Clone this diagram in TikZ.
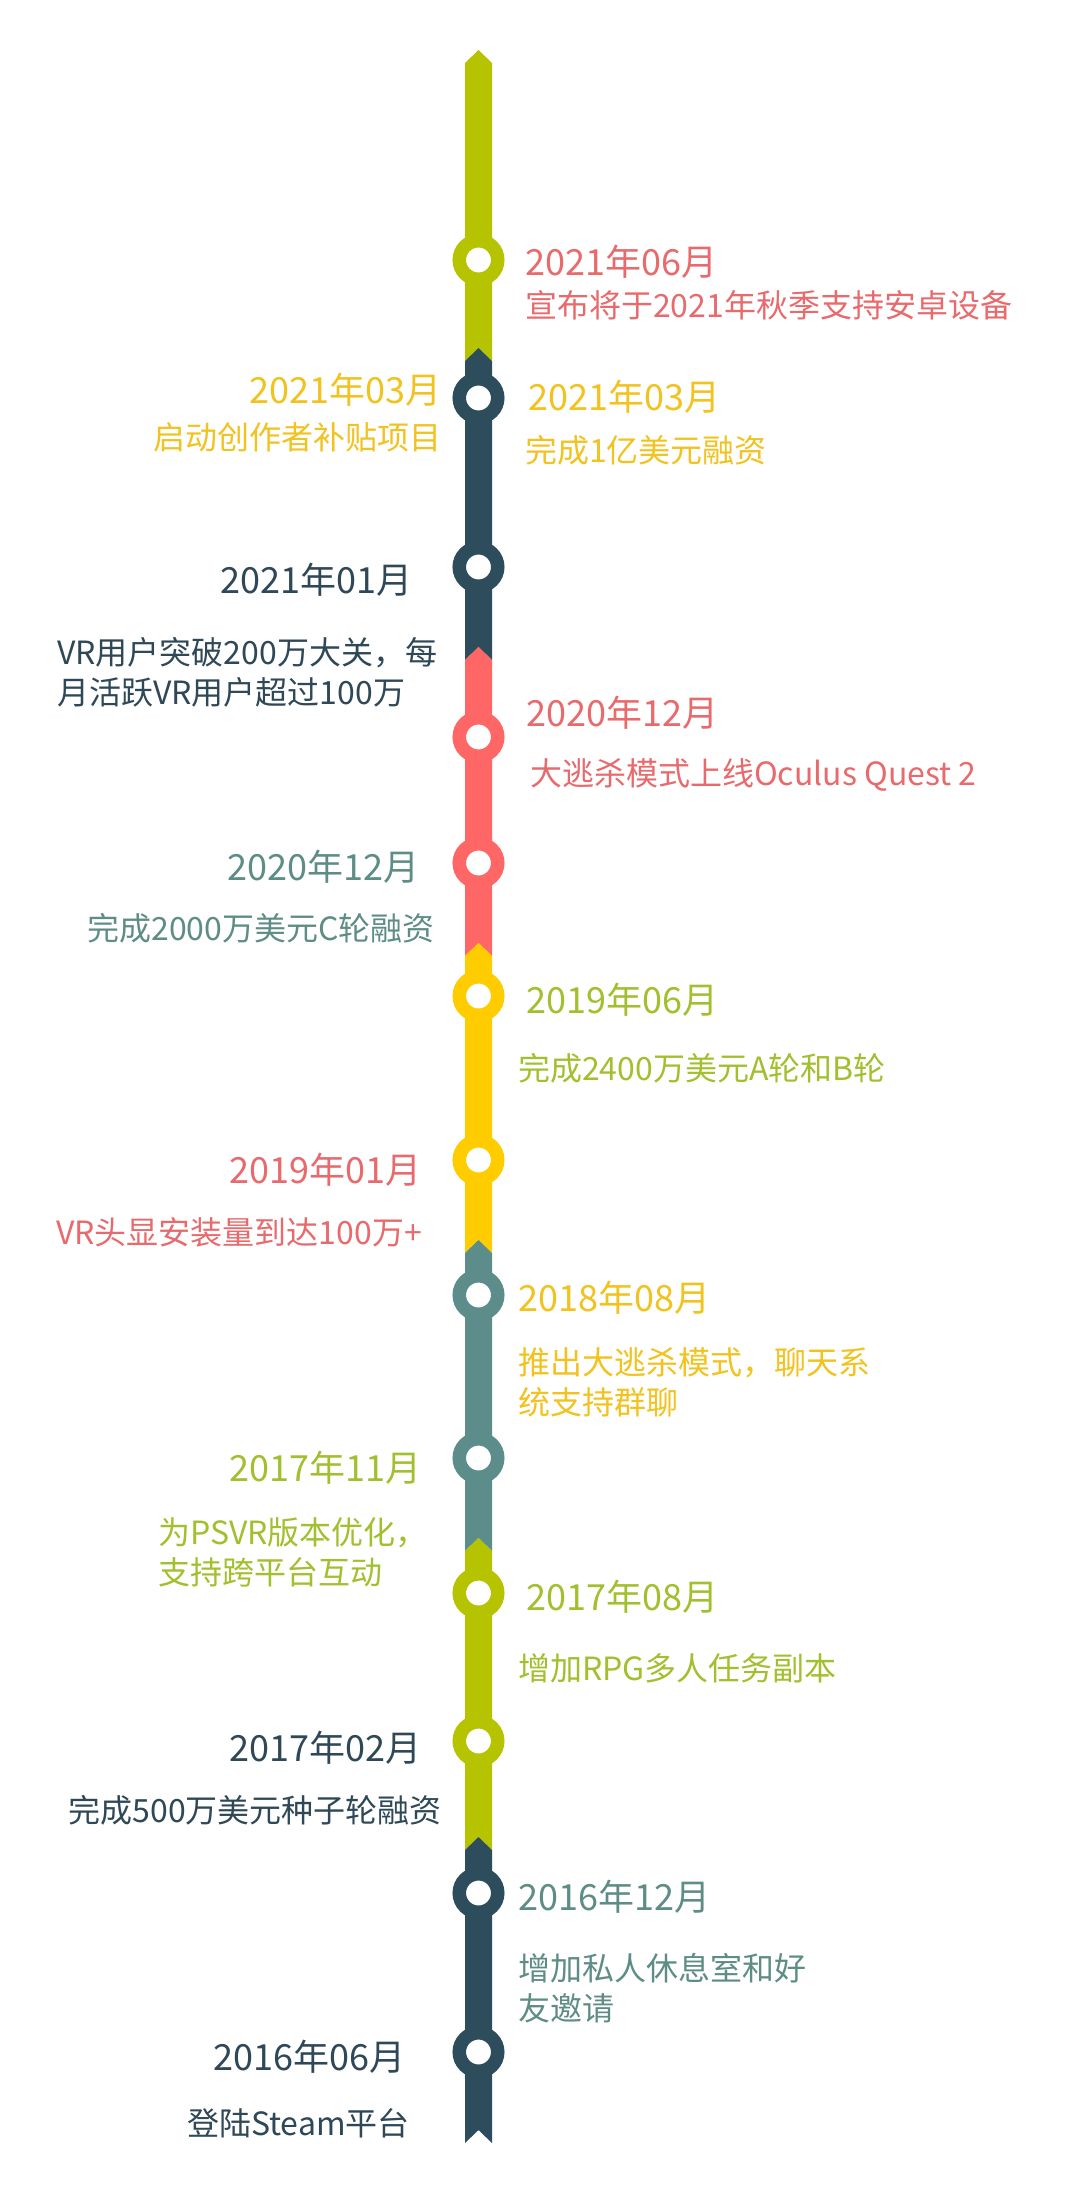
\documentclass[tikz,border=0pt]{standalone}
\usepackage{fontspec}
\newfontfamily\cjkfont{Noto Sans CJK SC}
\definecolor{barlime}{HTML}{B5C300}
\definecolor{barslate}{HTML}{2D4C5C}
\definecolor{barred}{HTML}{FF6666}
\definecolor{baryellow}{HTML}{FFCC00}
\definecolor{barteal}{HTML}{5C8D8B}
\definecolor{txtred}{HTML}{E86A6C}
\definecolor{txtyellow}{HTML}{F2C21E}
\definecolor{txtgreen}{HTML}{A2BF2E}
\definecolor{txtteal}{HTML}{5E8D86}
\definecolor{txtdark}{HTML}{2F4858}

\begin{document}
\begin{tikzpicture}[x=1pt, y=-1pt,
	ttl/.style={font=\cjkfont\fontsize{36}{40}\selectfont, inner sep=0pt},
	dsc/.style={font=\cjkfont\fontsize{32}{40}\selectfont, inner sep=0pt, align=left},
	dot/.style={circle, draw=#1, fill=white, line width=13.5pt, minimum size=38.5pt, inner sep=0pt}]
	\fill[white] (0,0) rectangle (1080,2206);
	\useasboundingbox (0,0) rectangle (1080,2206);
	% coloured bar, one piece per colour
	\foreach \ya/\yb/\c in {50/348/barlime, 348/647/barslate, 647/943/barred, 943/1240/baryellow, 1240/1538/barteal, 1538/1837/barlime, 1837/2130/barslate}
		{\fill[\c] (465,\ya+13) -- (478.5,\ya) -- (492,\ya+13) -- (492,\yb+13) -- (478.5,\yb) -- (465,\yb+13) -- cycle;}
	\foreach \y/\c/\n in {260/barlime/m1, 398/barslate/m2, 567/barslate/m3, 737/barred/m4, 863/barred/m5, 996/baryellow/m6, 1160/baryellow/m7, 1295/barteal/m8, 1458/barteal/m9, 1593/barlime/m10, 1741/barlime/m11, 1893/barslate/m12, 2052/barslate/m13}
		{\node[dot=\c] (\n) at (478.5,\y) {};}
	% right side
	\node[ttl, txtred, anchor=west] (t1) at (525,262) {2021年06月};
	\node[dsc, txtred, anchor=west] (d1) at (525,305) {宣布将于2021年秋季支持安卓设备};
	\node[ttl, txtyellow, anchor=west] (t2r) at (528,397) {2021年03月};
	\node[dsc, txtyellow, anchor=west] (d2r) at (525,450) {完成1亿美元融资};
	\node[ttl, txtred, anchor=west] (t4) at (526,713) {2020年12月};
	\node[dsc, txtred, anchor=west] (d4) at (530,775) {大逃杀模式上线Oculus Quest 2};
	\node[ttl, txtgreen, anchor=west] (t6) at (526,1000) {2019年06月};
	\node[dsc, txtgreen, anchor=west] (d6) at (518,1068) {完成2400万美元A轮和B轮};
	\node[ttl, txtyellow, anchor=west] (t8) at (518,1298) {2018年08月};
	\node[dsc, txtyellow, anchor=west] (d8) at (518,1382) {推出大逃杀模式，聊天系\\统支持群聊};
	\node[ttl, txtgreen, anchor=west] (t10) at (526,1597) {2017年08月};
	\node[dsc, txtgreen, anchor=west] (d10) at (518,1668) {增加RPG多人任务副本};
	\node[ttl, txtteal, anchor=west] (t12) at (518,1897) {2016年12月};
	\node[dsc, txtteal, anchor=west] (d12) at (518,1988) {增加私人休息室和好\\友邀请};
	% left side
	\node[ttl, txtyellow, anchor=east] (t2l) at (442,390) {2021年03月};
	\node[dsc, txtyellow, anchor=east] (d2l) at (442,437) {启动创作者补贴项目};
	\node[ttl, txtdark, anchor=east] (t3) at (413,580) {2021年01月};
	\node[dsc, txtdark, anchor=west] (d3) at (57,672) {VR用户突破200万大关，每\\月活跃VR用户超过100万};
	\node[ttl, txtteal, anchor=east] (t5) at (420,867) {2020年12月};
	\node[dsc, txtteal, anchor=east] (d5) at (435,928) {完成2000万美元C轮融资};
	\node[ttl, txtred, anchor=east] (t7) at (422,1170) {2019年01月};
	\node[dsc, txtred, anchor=east] (d7) at (422,1232) {VR头显安装量到达100万+};
	\node[ttl, txtgreen, anchor=east] (t9) at (422,1468) {2017年11月};
	\node[dsc, txtgreen, anchor=west] (d9) at (158,1552) {为PSVR版本优化，\\支持跨平台互动};
	\node[ttl, txtdark, anchor=east] (t11) at (422,1748) {2017年02月};
	\node[dsc, txtdark, anchor=east] (d11) at (442,1810) {完成500万美元种子轮融资};
	\node[ttl, txtdark, anchor=east] (t13) at (406,2057) {2016年06月};
	\node[dsc, txtdark, anchor=east] (d13) at (410,2123) {登陆Steam平台};
\end{tikzpicture}
\end{document}
